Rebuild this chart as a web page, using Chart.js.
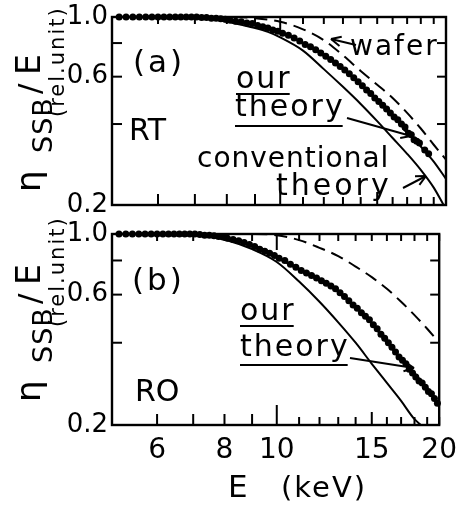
<!DOCTYPE html>
<html>
<head>
<meta charset="utf-8">
<script src="https://cdn.jsdelivr.net/npm/chart.js@4.4.0/dist/chart.umd.min.js"></script>
<style>
  html, body { margin: 0; padding: 0; background: #fff; }
  body { width: 466px; height: 511px; position: relative; overflow: hidden; }
  canvas { position: absolute; left: 0; }
  #chartA { top: 0; }
  #chartB { top: 205px; }
</style>
</head>
<body>
<canvas id="chartA" width="466" height="222" style="width:466px;height:222px"></canvas>
<canvas id="chartB" width="466" height="306" style="width:466px;height:306px"></canvas>
<script>
// axis ticks
const xMinorTicks = [6, 7, 8, 9, 10, 11, 12, 13, 14, 15, 16, 17, 18, 19, 20];
const xLabelTicks = [6, 8, 10, 15, 20];
const yTicks = [0.2, 0.4, 0.6, 0.8, 1.0];
const yLabelTicks = [0.2, 0.6, 1.0];

// === panel (a) RT ===
const aTheoryE = [5, 7, 7.5, 8, 8.5, 9, 9.5, 10, 11, 12, 13, 14, 15, 16, 17, 18, 19, 20];
const aTheory  = [1.0, 1.0, 0.995, 0.98, 0.96, 0.94, 0.91, 0.88, 0.80, 0.72, 0.64, 0.56, 0.49, 0.43, 0.38, 0.33, 0.29, 0.25];
const aConvE = [5, 7, 7.5, 8, 8.5, 9, 9.5, 10, 11, 12, 13, 14, 15, 16, 17, 18, 19, 19.8];
const aConv  = [1.0, 1.0, 0.985, 0.96, 0.935, 0.91, 0.88, 0.84, 0.75, 0.64, 0.55, 0.475, 0.41, 0.355, 0.31, 0.27, 0.232, 0.2];
const aWaferE = [5, 8, 9, 10, 11, 12, 13, 14, 15, 16, 17, 18, 19, 20];
const aWafer  = [1.0, 1.0, 0.99, 0.96, 0.90, 0.82, 0.72, 0.63, 0.56, 0.50, 0.44, 0.385, 0.335, 0.295];
const aPointsE = [5.1, 5.25, 5.4, 5.55, 5.7, 5.85, 6.0, 6.15, 6.3, 6.45, 6.6, 6.75, 6.9, 7.05, 7.2, 7.35, 7.5, 7.65, 7.8, 7.95,
  8.1, 8.3, 8.5, 8.7, 8.9, 9.1, 9.3, 9.5, 9.7, 9.9, 10.1, 10.35, 10.6, 10.85, 11.1, 11.35, 11.6, 11.85, 12.1, 12.35,
  12.6, 12.85, 13.1, 13.35, 13.6, 13.85, 14.1, 14.35, 14.6, 14.85, 15.1, 15.35, 15.6, 15.85, 16.1, 16.35, 16.6, 16.85,
  17.1, 17.3, 17.5, 17.7, 17.9, 18.3, 18.6];
const aPoints = [1.0, 1.0, 1.0, 1.0, 1.0, 1.0, 1.0, 1.0, 1.0, 1.0, 1.0, 1.0, 1.0, 1.0, 0.995, 0.995, 0.99, 0.99, 0.985, 0.98,
  0.975, 0.965, 0.96, 0.95, 0.945, 0.93, 0.92, 0.91, 0.895, 0.885, 0.87, 0.855, 0.835, 0.815, 0.79, 0.775, 0.755, 0.735, 0.715, 0.695,
  0.675, 0.655, 0.635, 0.615, 0.595, 0.575, 0.555, 0.535, 0.52, 0.5, 0.485, 0.47, 0.455, 0.44, 0.425, 0.415, 0.4, 0.39,
  0.37, 0.365, 0.35, 0.345, 0.34, 0.32, 0.31];

// === panel (b) RO ===
const bTheoryE = [5, 7, 8, 9, 10, 11, 12, 13, 14, 15, 16, 17, 18, 19, 20];
const bTheory  = [1.0, 0.995, 0.97, 0.90, 0.82, 0.74, 0.68, 0.62, 0.54, 0.47, 0.40, 0.35, 0.31, 0.27, 0.235];
const bConvE = [5, 7, 7.5, 8, 9, 10, 11, 12, 13, 14, 15, 16, 17, 18, 18.5];
const bConv  = [1.0, 0.995, 0.98, 0.955, 0.88, 0.79, 0.67, 0.565, 0.475, 0.40, 0.335, 0.285, 0.245, 0.21, 0.2];
const bWaferE = [5, 9, 10, 11, 12, 13, 14, 15, 16, 17, 18, 19, 20];
const bWafer  = [1.0, 1.0, 0.99, 0.95, 0.89, 0.83, 0.76, 0.695, 0.63, 0.565, 0.505, 0.45, 0.40];
const bPointsE = [5.1, 5.25, 5.4, 5.55, 5.7, 5.85, 6.0, 6.15, 6.3, 6.45, 6.6, 6.75, 6.9, 7.05, 7.2, 7.35, 7.5, 7.65, 7.8, 7.95,
  8.1, 8.3, 8.5, 8.7, 8.9, 9.1, 9.3, 9.5, 9.7, 9.9, 10.1, 10.35, 10.6, 10.85, 11.1, 11.35, 11.6, 11.85, 12.1, 12.35,
  12.6, 12.85, 13.1, 13.35, 13.6, 13.85, 14.1, 14.35, 14.6, 14.85, 15.1, 15.35, 15.6, 15.85, 16.1, 16.35, 16.6, 16.85,
  17.1, 17.35, 17.6, 17.85, 18.1, 18.35, 18.6, 18.85, 19.1, 19.35, 19.6, 19.85];
const bPoints = [1.0, 1.0, 1.0, 1.0, 1.0, 1.0, 1.0, 1.0, 1.0, 1.0, 1.0, 1.0, 1.0, 1.0, 0.995, 0.99, 0.99, 0.985, 0.98, 0.975,
  0.965, 0.955, 0.945, 0.93, 0.915, 0.9, 0.88, 0.865, 0.85, 0.835, 0.815, 0.8, 0.775, 0.755, 0.735, 0.72, 0.705, 0.69, 0.675, 0.66,
  0.645, 0.63, 0.61, 0.59, 0.57, 0.55, 0.535, 0.515, 0.5, 0.485, 0.465, 0.45, 0.43, 0.415, 0.4, 0.385, 0.37, 0.355,
  0.345, 0.335, 0.32, 0.31, 0.3, 0.29, 0.285, 0.275, 0.265, 0.26, 0.25, 0.24];

Chart.defaults.font.family = '"DejaVu Sans", sans-serif';
Chart.defaults.color = '#000';

const pairs = (xs, ys) => xs.map((x, i) => ({x: x, y: ys[i]}));

function curve(xs, ys, dash) {
    return {
        data: pairs(xs, ys),
        borderColor: '#000',
        borderWidth: 2,
        borderDash: dash || [],
        pointRadius: 0,
        cubicInterpolationMode: 'monotone',
        clip: 2
    };
}
function dots(xs, ys) {
    return {
        data: pairs(xs, ys),
        showLine: false,
        pointRadius: 3.5,
        pointBackgroundColor: '#000',
        pointBorderWidth: 0,
        clip: {left: 5, top: 6, right: 5, bottom: 2}
    };
}

function line(ctx, x1, y1, x2, y2) {
    ctx.beginPath(); ctx.moveTo(x1, y1); ctx.lineTo(x2, y2); ctx.stroke();
}
function arrow(ctx, x1, y1, x2, y2) {
    line(ctx, x1, y1, x2, y2);
    const ang = Math.atan2(y2 - y1, x2 - x1);
    [0.45, -0.45].forEach(d => {
        line(ctx, x2, y2, x2 - 11 * Math.cos(ang + d), y2 - 11 * Math.sin(ang + d));
    });
}
function txt(ctx, s, x, y, size, spacing) {
    ctx.font = size + 'px "DejaVu Sans"';
    ctx.letterSpacing = (spacing || 0) + 'px';
    ctx.fillText(s, x, y);
    const w = ctx.measureText(s).width;
    ctx.letterSpacing = '0px';
    return w;
}
function underline(ctx, x, y, w) {
    ctx.lineWidth = 2;
    line(ctx, x, y, x + w, y);
}
function yTitle(ctx, bx, by) {
    // rotated eta_SSB / E (rel.unit)
    ctx.save();
    ctx.translate(bx, by);
    ctx.rotate(-Math.PI / 2);
    ctx.textBaseline = 'alphabetic';
    txt(ctx, 'η', -2, 0, 34);
    txt(ctx, 'SSB', 37, 12, 27, 1);
    txt(ctx, '/', 96, 0, 31);
    txt(ctx, 'E', 115, 0, 33);
    txt(ctx, '(rel.unit)', 73, 24, 21, 2);
    ctx.restore();
}

// frame + inward ticks
const frameTicks = {
    id: 'frameTicks',
    afterDraw(chart) {
        const {ctx, chartArea: a, scales: {x, y}} = chart;
        ctx.save();
        ctx.strokeStyle = '#000';
        ctx.lineWidth = 2.4;
        ctx.strokeRect(a.left, a.top, a.right - a.left, a.bottom - a.top);
        ctx.lineWidth = 2;
        xMinorTicks.forEach(v => {
            const px = x.getPixelForValue(v);
            let lb = 8, lt = 7;
            if (v < 10) lb = 11;
            if (v === 10) { lb = 20; lt = 16; }
            if (v === 15) lb = 13;
            line(ctx, px, a.bottom, px, a.bottom - lb);
            line(ctx, px, a.top, px, a.top + lt);
        });
        yTicks.slice(1, 4).forEach(v => {
            const py = y.getPixelForValue(v);
            line(ctx, a.left, py, a.left + 10, py);
            line(ctx, a.right, py, a.right - 9, py);
        });
        ctx.restore();
    }
};

function makeOptions(padding, xAxisHeight, showX) {
    return {
        responsive: false,
        animation: false,
        layout: {padding: padding},
        plugins: {legend: {display: false}, tooltip: {enabled: false}},
        scales: {
            x: {
                type: 'logarithmic',
                min: 4.95,
                max: 20,
                display: true,
                border: {display: false},
                grid: {display: false, drawTicks: false},
                afterBuildTicks: s => { s.ticks = xMinorTicks.map(v => ({value: v})); },
                afterFit: s => { s.height = xAxisHeight; },
                ticks: {
                    display: showX,
                    autoSkip: false,
                    maxRotation: 0,
                    padding: 9,
                    font: {size: 28},
                    callback: v => xLabelTicks.includes(v) ? String(v) : ''
                }
            },
            y: {
                type: 'logarithmic',
                min: 0.2,
                max: 1.0,
                border: {display: false},
                grid: {display: false, drawTicks: false},
                afterBuildTicks: s => { s.ticks = yTicks.map(v => ({value: v})); },
                afterFit: s => { s.width = 112; },
                ticks: {
                    padding: 4,
                    font: {size: 26, lineHeight: 1},
                    callback: v => yLabelTicks.includes(v) ? v.toFixed(1) : ''
                }
            }
        }
    };
}

// === panel (a) ===
const notesA = {
    id: 'notesA',
    afterDraw(chart) {
        const ctx = chart.ctx;
        ctx.save();
        ctx.fillStyle = '#000';
        ctx.strokeStyle = '#000';
        ctx.lineWidth = 2;
        yTitle(ctx, 40, 190);
        txt(ctx, '(a)', 133, 72, 31, 3);
        txt(ctx, 'RT', 129, 140, 30);
        let w = txt(ctx, 'our', 236, 88, 30, 2);
        underline(ctx, 236, 94, w - 2);
        w = txt(ctx, 'theory', 235, 116, 30, 2);
        underline(ctx, 235, 126, w - 2);
        arrow(ctx, 347, 118, 411, 136);
        txt(ctx, 'wafer', 350, 55, 28, 2);
        arrow(ctx, 356, 45, 331, 39);
        txt(ctx, 'conventional', 197, 167, 28, 1);
        txt(ctx, 'theory', 276, 195, 30, 3);
        arrow(ctx, 403, 188, 426, 176);
        ctx.restore();
    }
};

new Chart(document.getElementById('chartA'), {
    type: 'line',
    data: {
        datasets: [
            curve(aWaferE, aWafer, [13, 7]),
            curve(aConvE, aConv),
            curve(aTheoryE, aTheory),
            dots(aPointsE, aPoints)
        ]
    },
    options: makeOptions({top: 14, right: 20, left: 0, bottom: 0}, 17, false),
    plugins: [frameTicks, notesA]
});

// === panel (b) ===
const notesB = {
    id: 'notesB',
    afterDraw(chart) {
        const ctx = chart.ctx;
        ctx.save();
        ctx.translate(0, -205);
        ctx.fillStyle = '#000';
        ctx.strokeStyle = '#000';
        ctx.lineWidth = 2;
        yTitle(ctx, 40, 400);
        txt(ctx, '(b)', 132, 290, 31, 3);
        txt(ctx, 'RO', 135, 401, 30);
        let w = txt(ctx, 'our', 240, 320, 30, 2);
        underline(ctx, 240, 326, w - 2);
        w = txt(ctx, 'theory', 240, 356, 30, 2);
        underline(ctx, 240, 365, w - 2);
        arrow(ctx, 350, 358, 414, 368);
        txt(ctx, 'E', 228, 497, 31);
        txt(ctx, '(keV)', 281, 497, 29, 2);
        ctx.restore();
    }
};

new Chart(document.getElementById('chartB'), {
    type: 'line',
    data: {
        datasets: [
            curve(bWaferE, bWafer, [13, 7]),
            curve(bConvE, bConv),
            curve(bTheoryE, bTheory),
            dots(bPointsE, bPoints)
        ]
    },
    options: makeOptions({top: 29, right: 18, left: 0, bottom: 0}, 86, true),
    plugins: [frameTicks, notesB]
});
</script>
</body>
</html>
